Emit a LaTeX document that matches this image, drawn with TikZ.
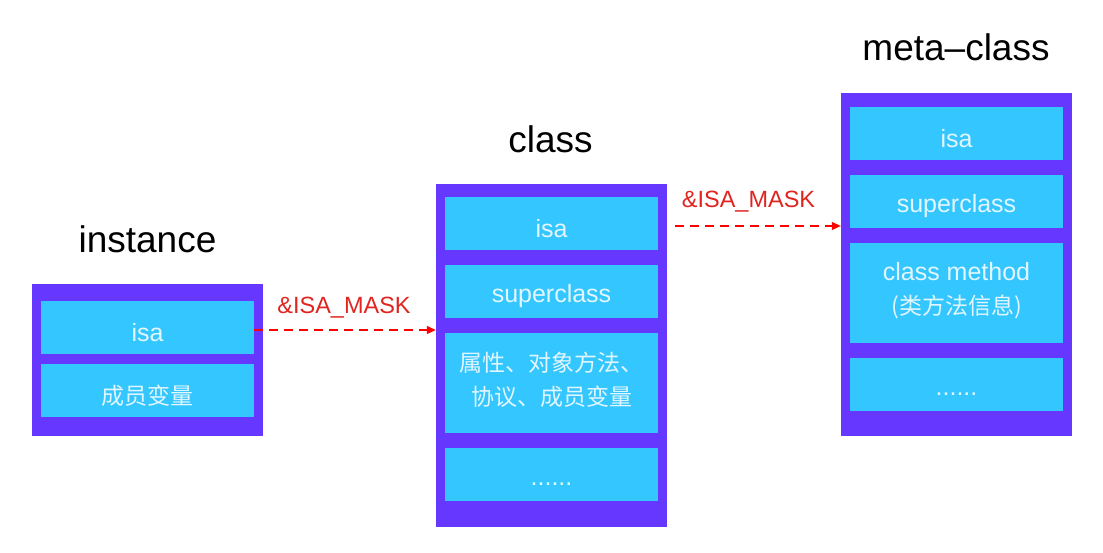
\documentclass[tikz,border=0pt]{standalone}
\usepackage{fontspec}
\setmainfont{Liberation Sans}
\newfontfamily\cjk{Noto Sans CJK SC}
\usetikzlibrary{arrows.meta,calc}
\definecolor{outerc}{HTML}{6638FF}
\definecolor{innerc}{HTML}{33C6FF}
\definecolor{txtc}{HTML}{E2F6FF}
\definecolor{redl}{HTML}{FF0000}
\definecolor{redt}{HTML}{E02420}
\begin{document}
\begin{tikzpicture}[x=1pt,y=-1pt,
  outerbox/.style={fill=outerc,draw=none,inner sep=0pt,minimum width=231pt},
  innerbox/.style={fill=innerc,draw=none,inner sep=0pt,minimum width=213pt},
  boxtxt/.style={inner sep=0pt,text=txtc,align=center,font=\fontsize{25}{34}\selectfont},
  cjktxt/.style={inner sep=0pt,text=txtc,align=center,font=\cjk\fontsize{23}{34}\selectfont},
  title/.style={anchor=base,inner sep=0pt,font=\fontsize{37}{42}\selectfont},
  lbl/.style={anchor=base,inner sep=0pt,text=redt,font=\fontsize{23.5}{28}\selectfont},
  rarrow/.style={draw=redl,line width=1.2pt,dash pattern=on 9pt off 6pt,
    -{Triangle[length=9pt,width=8pt,fill=redl]}}]
\useasboundingbox (0,0) rectangle (1103,553);
% instance
\node[outerbox,minimum height=152pt] (inst) at (147.5,360) {};
\node[innerbox,minimum height=53pt] (iisa) at (147.5,327.5) {};
\node[innerbox,minimum height=53pt] (ivar) at (147.5,390.5) {};
\node[boxtxt] (iisat) at ($(iisa)+(0,5)$) {isa};
\node[cjktxt] (ivart) at ($(ivar)+(0,5)$) {成员变量};
\node[title] (tinst) at (147.5,253) {instance};
% class
\node[outerbox,minimum height=343pt] (cls) at (551.5,355.5) {};
\node[innerbox,minimum height=53pt] (cisa) at (551.5,223.5) {};
\node[innerbox,minimum height=53pt] (csup) at (551.5,291.5) {};
\node[innerbox,minimum height=100pt] (cprop) at (551.5,383) {};
\node[innerbox,minimum height=53pt] (cdots) at (551.5,474.5) {};
\node[boxtxt] (cisat) at ($(cisa)+(0,5)$) {isa};
\node[boxtxt] (csupt) at ($(csup)+(0,5)$) {superclass};
\node[cjktxt] (cpropt) at ($(cprop)+(0,-3)$) {属性、对象方法、\\协议、成员变量};
\node[boxtxt,anchor=base] (cdotst) at ($(cdots)+(0,10.5)$) {......};
\node[title] (tcls) at (550.5,153) {class};
% meta-class
\node[outerbox,minimum height=343pt] (meta) at (956.5,264.5) {};
\node[innerbox,minimum height=53pt] (misa) at (956.5,133.5) {};
\node[innerbox,minimum height=53pt] (msup) at (956.5,201.5) {};
\node[innerbox,minimum height=100pt] (mmeth) at (956.5,293) {};
\node[innerbox,minimum height=53pt] (mdots) at (956.5,384.5) {};
\node[boxtxt] (misat) at ($(misa)+(0,5)$) {isa};
\node[boxtxt] (msupt) at ($(msup)+(0,5)$) {superclass};
\node[boxtxt] (mmetht) at ($(mmeth)+(0,-2)$) {class method\\{\cjk\fontsize{23}{34}\selectfont (类方法信息)}};
\node[boxtxt,anchor=base] (mdotst) at ($(mdots)+(0,10.5)$) {......};
\node[title] (tmeta) at (956,61) {meta–class};
% arrows
\draw[rarrow] ($(iisa.east)+(0,2.5)$) coordinate (a1s) -- (a1s -| cls.west);
\node[lbl] (l1) at (344,313) {\&ISA\_MASK};
\draw[rarrow] ($(cisa.east)+(17,2.5)$) coordinate (a2s) -- (a2s -| meta.west);
\node[lbl] (l2) at (748.5,208) {\&ISA\_MASK};
\end{tikzpicture}
\end{document}
